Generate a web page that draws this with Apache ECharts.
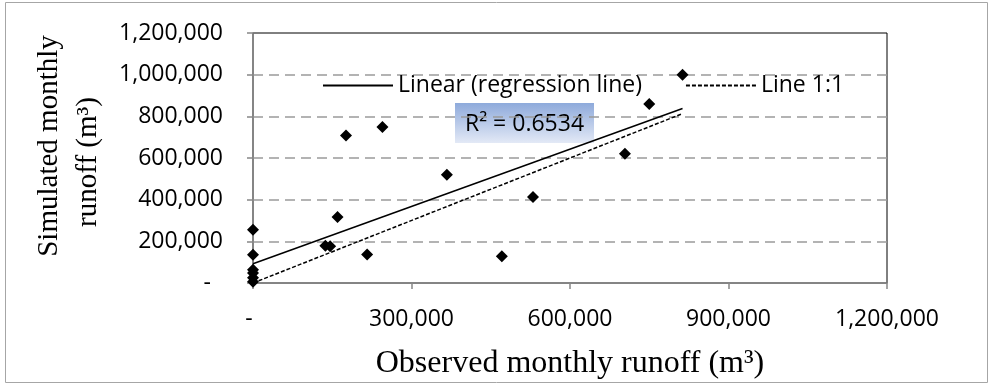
<!DOCTYPE html>
<html>
<head>
<meta charset="utf-8">
<title>Observed vs simulated monthly runoff</title>
<script src="https://cdn.jsdelivr.net/npm/echarts@6/dist/echarts.min.js"></script>
<style>
  html, body { margin: 0; padding: 0; background: #fff; }
  #chart { width: 993px; height: 385px; }
</style>
</head>
<body>
<div id="chart"></div>
<script>
// Observed (x) and simulated (y) monthly runoff, m³
const observed = [0, 0, 0, 0, 0, 0, 176000, 245000, 367000, 160000, 137000, 146000, 216000, 471000, 530000, 704000, 750000, 813000];
const simulated = [256000, 136000, 64000, 48000, 25000, 6000, 708000, 749000, 520000, 317000, 179000, 176000, 137000, 128000, 413000, 621000, 859000, 1000000];

// Fitted trend: simulated = slope * observed + intercept
const trendSlope = 0.916;
const trendIntercept = 92600;
const trendR2 = '0.6534';

const xTicks = [0, 300000, 600000, 900000, 1200000];
const yTicks = [0, 200000, 400000, 600000, 800000, 1000000, 1200000];

const seriesNames = ['Linear (regression line)', 'Line 1:1'];

const sansFont = "'Open Sans', 'Noto Sans', sans-serif";
const serifFont = "'Liberation Serif', 'DejaVu Serif', serif";

const points = observed.map((x, i) => [x, simulated[i]]);
const xMax = Math.max.apply(null, observed);
const trendLine = [[0, trendIntercept], [xMax, trendIntercept + trendSlope * xMax]];
const identityLine = [[0, 0], [xMax, xMax]];

function fmt(v) {
  return v === 0 ? '{d|-}' : v.toLocaleString('en-US');
}

const chart = echarts.init(document.getElementById('chart'), null, { renderer: 'canvas' });

chart.setOption({
  animation: false,
  backgroundColor: '#fff',
  grid: {
    left: 253, top: 33, width: 634, height: 250,
    show: true, borderColor: '#000', borderWidth: 1, backgroundColor: 'transparent'
  },
  legend: {
    data: seriesNames,
    left: 322, top: 74, padding: 0,
    itemWidth: 70, itemHeight: 14, itemGap: 43,
    itemStyle: { opacity: 0 },
    textStyle: { fontFamily: sansFont, fontSize: 23, color: '#000' },
    selectedMode: false
  },
  xAxis: {
    type: 'value',
    min: xTicks[0], max: xTicks[xTicks.length - 1], interval: xTicks[1] - xTicks[0],
    name: 'Observed monthly runoff (m³)',
    nameLocation: 'middle', nameGap: 65,
    nameTextStyle: { fontFamily: serifFont, fontSize: 32, color: '#000' },
    axisLine: { lineStyle: { color: '#878787', width: 1.5 } },
    axisTick: { show: true, length: 6, lineStyle: { color: '#878787', width: 1.5 } },
    axisLabel: {
      margin: 25, color: '#000', fontFamily: sansFont, fontSize: 23,
      formatter: fmt,
      rich: { d: { fontFamily: sansFont, fontSize: 23, color: '#000', padding: [0, 8, 0, 0] } }
    },
    splitLine: { show: false }
  },
  yAxis: {
    type: 'value',
    min: yTicks[0], max: yTicks[yTicks.length - 1], interval: yTicks[1] - yTicks[0],
    name: '{a|Simulated monthly}\n{b|runoff (m³)}',
    nameLocation: 'middle', nameGap: 145, nameRotate: 90,
    nameTextStyle: {
      fontFamily: serifFont, fontSize: 29, color: '#000', lineHeight: 39, align: 'center',
      rich: {
        a: { fontFamily: serifFont, fontSize: 29, color: '#000', lineHeight: 39, padding: [0, 0, 0, 24] },
        b: { fontFamily: serifFont, fontSize: 29, color: '#000', lineHeight: 39, padding: [0, 8, 0, 0] }
      }
    },
    axisLine: { lineStyle: { color: '#878787', width: 1.5 } },
    axisTick: { show: true, length: 6, lineStyle: { color: '#878787', width: 1.5 } },
    axisLabel: {
      margin: 30, color: '#000', fontFamily: sansFont, fontSize: 23,
      formatter: fmt,
      rich: { d: { fontFamily: sansFont, fontSize: 23, color: '#000', padding: [0, 12, 0, 0] } }
    },
    splitLine: {
      show: true, showMinLine: false, showMaxLine: false,
      lineStyle: { color: '#9a9a9a', width: 1.5, type: [10, 6] }
    }
  },
  series: [
    {
      name: seriesNames[0],
      type: 'line',
      data: trendLine,
      symbol: 'none',
      lineStyle: { color: '#000', width: 1.5, type: 'solid' },
      itemStyle: { color: '#000' },
      z: 2, silent: true
    },
    {
      name: seriesNames[1],
      type: 'line',
      data: identityLine,
      symbol: 'none',
      lineStyle: { color: '#000', width: 1.5, type: [4, 2] },
      itemStyle: { color: '#000' },
      z: 2, silent: true
    },
    {
      name: 'Monthly runoff',
      type: 'scatter',
      data: points,
      symbol: 'diamond',
      symbolSize: [12, 12],
      itemStyle: { color: '#000', opacity: 1 },
      z: 3
    }
  ],
  graphic: [
    {
      type: 'rect',
      shape: { x: 5.5, y: 2.5, width: 982, height: 380 },
      style: { fill: 'none', stroke: '#a6a6a6', lineWidth: 1 },
      silent: true, z: 0
    },
    {
      type: 'group',
      left: 455, top: 103, z: 10,
      children: [
        {
          type: 'rect',
          shape: { x: 0, y: 0, width: 139, height: 40 },
          style: {
            fill: new echarts.graphic.LinearGradient(0, 0, 0, 1, [
              { offset: 0, color: '#8eaadb' },
              { offset: 1, color: '#e3e9f6' }
            ])
          }
        },
        {
          type: 'text',
          x: 69.5, y: 21,
          style: {
            text: 'R² = ' + trendR2,
            fontFamily: sansFont, fontSize: 23, fill: '#000',
            align: 'center', verticalAlign: 'middle'
          }
        }
      ]
    }
  ]
});
</script>
</body>
</html>
